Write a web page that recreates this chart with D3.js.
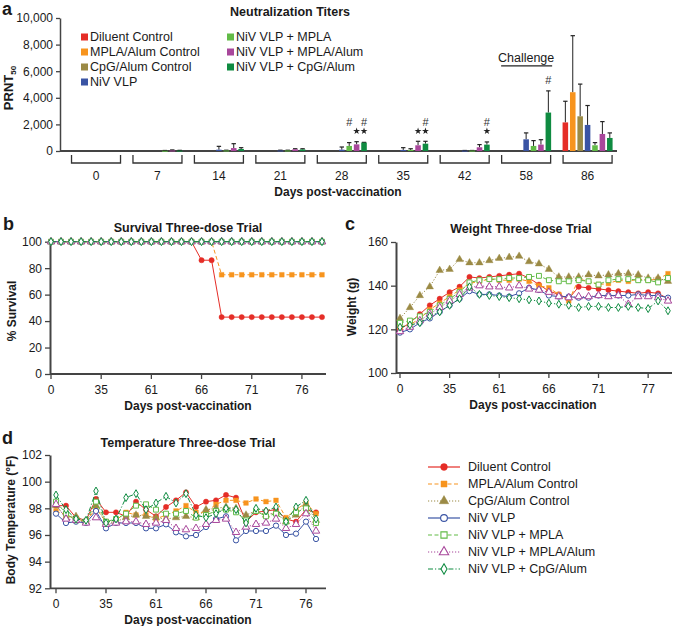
<!DOCTYPE html>
<html><head><meta charset="utf-8">
<script src="https://cdn.jsdelivr.net/npm/d3@7"></script>
<style>
body{margin:0;background:#fff;}
svg{font-family:"Liberation Sans",Arial,Helvetica,sans-serif;}
</style></head><body>
<svg id="chart" width="675" height="626"></svg>
<script>
// ---------------- DATA ----------------
const seriesNames = ["Diluent Control","MPLA/Alum Control","CpG/Alum Control","NiV VLP","NiV VLP + MPLA","NiV VLP + MPLA/Alum","NiV VLP + CpG/Alum"];
const seriesColors = ["#e52d27","#f7941e","#9b8a45","#3a54a4","#62bb47","#a8479b","#0f8b41"];

// Panel a: neutralization titers
const titerDays = ["0","7","14","21","28","35","42","58","86"];
const titerTicks = [0,2000,4000,6000,8000,10000];
const titerMeans = [
  [0,0,0,0,0,0,0,0,2150],
  [0,0,0,0,0,0,0,0,4420],
  [0,0,0,0,0,0,0,0,2610],
  [0,0,100,40,100,80,30,880,1960],
  [0,20,40,40,380,80,30,380,430],
  [0,40,220,130,500,430,280,480,1280],
  [0,30,150,120,630,550,480,2890,980]
];
const titerUpper = [
  [0,0,0,0,0,0,0,0,3740],
  [0,0,0,0,0,0,0,0,8670],
  [0,0,0,0,0,0,0,0,5030],
  [0,0,350,60,300,250,40,1360,3420],
  [0,40,60,60,630,170,40,780,630],
  [0,80,550,170,700,730,480,850,2210],
  [0,50,250,170,650,730,680,4520,1360]
];
const hashMarks = [["28",4,2180],["28",6,2180],["35",6,2180],["42",6,2180],["58",6,5340]];
const starMarks = [["28",5,1500],["28",6,1500],["35",5,1500],["35",6,1500],["42",6,1500]];
const challengeGroup = "58";
const challengeLevel = [6400, 7000];

// Panel b: survival
const survivalTickLabels = ["0","35","61","66","71","76"];
const survival = [
  [100,100,100,100,100,100,100,100,100,100,100,100,100,100,100,86,86,43,43,43,43,43,43,43,43,43,43,43],
  [100,100,100,100,100,100,100,100,100,100,100,100,100,100,100,100,100,75,75,75,75,75,75,75,75,75,75,75],
  [100,100,100,100,100,100,100,100,100,100,100,100,100,100,100,100,100,100,100,100,100,100,100,100,100,100,100,100],
  [100,100,100,100,100,100,100,100,100,100,100,100,100,100,100,100,100,100,100,100,100,100,100,100,100,100,100,100],
  [100,100,100,100,100,100,100,100,100,100,100,100,100,100,100,100,100,100,100,100,100,100,100,100,100,100,100,100],
  [100,100,100,100,100,100,100,100,100,100,100,100,100,100,100,100,100,100,100,100,100,100,100,100,100,100,100,100],
  [100,100,100,100,100,100,100,100,100,100,100,100,100,100,100,100,100,100,100,100,100,100,100,100,100,100,100,100]
];

// Panel c: weight
const weightTickLabels = ["0","35","61","66","71","77"];
const weightTicks = [100,120,140,160];
const weight = [
  [120,123,127,131,134,137,139.5,144,143.5,144,144.5,145,145.5,143.5,140.5,137.5,136,134,139.5,139,138.5,138,137.5,137,136.5,137,136.5,134],
  [121,122,125,129,132,135,138,141,142,143,142.5,142.5,143,142,140,139,136,133,143,142,140.5,141,142.5,142,143,142.5,143,145.5],
  [125,130,135.5,139.5,147,147.5,152,150.5,150.5,151.5,152.5,153,153.5,151,150,147.5,144,144,144,145,144.5,145,145.5,145.5,145,143.5,143.5,142],
  [118.5,120,123,125,128,131,134,137.5,136,136,135.5,135,136.5,139,138,135.5,135,135,134.5,134.5,135.5,135.5,135.5,135.5,136,135.5,135.5,134.5],
  [123,124,126,128,131,134,137,141.5,142.5,143,143,143.5,143.5,144,144.5,142.5,142,142,142.5,142,140.5,142.5,143,143,142.5,142.5,141.5,143.5],
  [119,121,124,127,130,133,136,139,140,139.5,139.5,139,140,138.5,138,137,135,134.5,135,135,135.5,135,135.5,131.5,135,135,134.5,133],
  [121,122,123,126,128,131,134,139.5,136,135.5,135,134.5,134,133.5,133,132,131.5,131,130,130.5,130.5,130,130,130.5,130,129.5,133,128.5]
];

// Panel d: temperature
const tempTickLabels = ["0","35","61","66","71","76"];
const tempTicks = [92,94,96,98,100,102];
const temperature = [
  [98.2,98.2,97.3,97.1,98.7,97.7,97.7,97.4,98.5,97.9,97.4,98.1,98.6,99.2,98.1,98.5,98.6,99.0,98.8,97.0,97.7,97.8,97.9,97.2,97.0,97.9,97.7],
  [97.8,97.5,97.2,97.0,98.0,97.0,97.1,97.7,97.5,97.5,97.2,97.5,97.8,98.2,97.7,97.7,98.3,98.6,98.6,98.4,98.7,98.5,98.6,97.3,97.9,98.4,97.6],
  [98.2,97.3,97.4,97.0,98.2,96.9,97.0,97.3,97.5,97.4,97.3,97.2,97.3,97.4,97.3,97.9,98.0,98.1,98.0,97.5,97.8,97.5,97.7,97.0,97.5,98.3,97.1],
  [97.6,96.9,97.0,96.9,97.8,96.5,96.9,96.9,96.9,96.5,96.5,96.8,96.2,95.9,96.0,96.6,97.2,97.4,95.6,96.3,96.3,96.3,96.7,96.0,96.1,97.0,95.7],
  [98.5,97.6,97.1,97.0,98.5,97.0,97.2,97.6,98.2,98.3,97.9,97.6,97.6,97.8,97.3,97.5,97.8,97.9,97.7,97.1,97.8,97.4,97.6,97.0,97.7,98.0,96.9],
  [98.3,97.2,97.1,96.9,97.3,96.8,96.9,97.0,97.0,96.8,96.9,97.1,96.5,96.4,96.5,96.8,97.1,97.2,96.2,96.6,96.8,96.9,97.2,96.5,96.8,97.6,96.3],
  [99.0,97.9,97.2,97.1,99.3,96.9,97.2,98.8,99.1,97.9,98.4,98.9,98.4,99.1,97.5,97.3,97.6,98.0,97.9,96.9,98.0,97.8,98.1,97.0,98.1,98.6,97.2]
];

// ---------------- STYLES ----------------
const dashes = [null,"4,2.5","1.2,1.8",null,"4,2.5","1.2,1.8","5,2,1.2,2"];
const symbols = [d3.symbolCircle,d3.symbolSquare,d3.symbolTriangle,d3.symbolCircle,d3.symbolSquare,d3.symbolTriangle,d3.symbolDiamond];
const symbolSizes = [22,22,24,22,24,24,18];
const filled = [true,true,true,false,false,false,false];
const axisColor = "#444";
const textColor = "#1a1a1a";

const svg = d3.select("#chart");

function label(g, x, y, s, size, weight, anchor) {
  return g.append("text").attr("x", x).attr("y", y).text(s)
    .attr("font-size", size).attr("font-weight", weight || "normal")
    .attr("text-anchor", anchor || "start").attr("fill", textColor);
}
function styleAxis(sel, width) {
  sel.select(".domain").attr("stroke", axisColor).attr("stroke-width", width || 1.8);
  sel.selectAll(".tick line").attr("stroke", axisColor).attr("stroke-width", 1.3);
  sel.selectAll(".tick text").attr("font-size", 12).attr("fill", textColor)
    .attr("font-family", '"Liberation Sans", Arial, sans-serif');
}

// ---------------- PANEL A ----------------
const gA = svg.append("g");
label(gA, 2, 15, "a", 18, "bold");
label(gA, 290, 16, "Neutralization Titers", 12.5, "bold", "middle");
const yA = d3.scaleLinear().domain([0,10000]).range([151,18]);
const xA = d3.scaleBand().domain(titerDays).range([65.3,618.3]);
const half = xA.bandwidth()/2;
const inner = d3.scaleBand().domain(d3.range(7)).range([half-25, half+25]).paddingInner(0.25);

const axA = gA.append("g").attr("transform","translate(60,0)")
  .call(d3.axisLeft(yA).tickValues(titerTicks).tickFormat(d3.format(",")).tickSize(4).tickSizeOuter(0).tickPadding(3));
styleAxis(axA, 1.5);
gA.append("line").attr("x1",60).attr("x2",617).attr("y1",yA(0)).attr("y2",yA(0))
  .attr("stroke",axisColor).attr("stroke-width",1.8);

const ylab = gA.append("text").attr("transform","translate(13,88) rotate(-90)")
  .attr("text-anchor","middle").attr("font-size",13).attr("font-weight","bold").attr("fill",textColor);
ylab.append("tspan").text("PRNT");
ylab.append("tspan").text("50").attr("font-size",8).attr("dy",3);

// bars
seriesNames.forEach((name, s) => {
  titerDays.forEach((d, k) => {
    const m = titerMeans[s][k], u = titerUpper[s][k];
    if (m <= 0) return;
    const x = xA(d) + inner(s), w = inner.bandwidth(), cx = x + w/2;
    if (u > m) {
      gA.append("line").attr("x1",cx).attr("x2",cx).attr("y1",yA(m)).attr("y2",yA(u)).attr("stroke","#222").attr("stroke-width",1);
      gA.append("line").attr("x1",cx-2.2).attr("x2",cx+2.2).attr("y1",yA(u)).attr("y2",yA(u)).attr("stroke","#222").attr("stroke-width",1.2);
    }
    gA.append("rect").attr("x",x).attr("y",yA(m)).attr("width",w).attr("height",Math.max(1,yA(0)-yA(m)))
      .attr("fill",seriesColors[s]);
  });
});
// significance marks
hashMarks.forEach(([d,s,v]) => {
  const cx = xA(d) + inner(s) + inner.bandwidth()/2;
  gA.append("text").attr("x",cx).attr("y",yA(v)).attr("dy","0.35em").attr("text-anchor","middle")
    .attr("font-size",11).attr("fill","#333").text("#");
});
starMarks.forEach(([d,s,v]) => {
  const cx = xA(d) + inner(s) + inner.bandwidth()/2;
  gA.append("path").attr("d", d3.symbol().type(d3.symbolStar).size(15)())
    .attr("transform",`translate(${cx},${yA(v)})`).attr("fill","#222");
});
// challenge
{
  const c = xA(challengeGroup) + half;
  gA.append("line").attr("x1",c-25).attr("x2",c+26).attr("y1",yA(challengeLevel[0])).attr("y2",yA(challengeLevel[0]))
    .attr("stroke","#222").attr("stroke-width",1.3);
  gA.append("text").attr("x",c).attr("y",yA(challengeLevel[1])).attr("dy","0.35em").attr("text-anchor","middle")
    .attr("font-size",12.5).attr("fill",textColor).text("Challenge");
}
// brackets + labels
titerDays.forEach(d => {
  const c = xA(d) + half;
  gA.append("path").attr("d",`M${c-24.5},155V163H${c+24.5}V155`).attr("fill","none")
    .attr("stroke","#333").attr("stroke-width",1.3);
  label(gA, c, 180, d, 12, "normal", "middle");
});
label(gA, 338, 196, "Days post-vaccination", 12, "bold", "middle");
// legend a
seriesNames.forEach((n, s) => {
  const col = s < 4 ? 0 : 1, row = s < 4 ? s : s - 4;
  const x = col === 0 ? 81 : 227, y = 37 + row * 15;
  gA.append("rect").attr("x",x).attr("y",y-3.5).attr("width",7).attr("height",7).attr("fill",seriesColors[s]);
  gA.append("text").attr("x",x+9).attr("y",y).attr("dy","0.35em").attr("font-size",12.5).attr("fill",textColor).text(n);
});

// ---------------- LINE PANELS ----------------
function linePanel(cfg) {
  const g = svg.append("g");
  label(g, cfg.letterX, cfg.letterY, cfg.letter, 18, "bold");
  label(g, cfg.titleX, cfg.titleY, cfg.title, 12.5, "bold", "middle");
  const ax = g.append("g").attr("transform",`translate(${cfg.axisX},0)`)
    .call(d3.axisLeft(cfg.y).tickValues(cfg.yTicks).tickSize(5).tickSizeOuter(0).tickPadding(3));
  styleAxis(ax, 2);
  g.append("line").attr("x1",cfg.axisX).attr("x2",cfg.axisEnd).attr("y1",cfg.y.range()[0]).attr("y2",cfg.y.range()[0])
    .attr("stroke",axisColor).attr("stroke-width",1.8);
  cfg.xTickLabels.forEach((t, j) => {
    const xx = cfg.x(j * 5);
    g.append("line").attr("x1",xx).attr("x2",xx).attr("y1",cfg.y.range()[0]).attr("y2",cfg.y.range()[0]+5)
      .attr("stroke",axisColor).attr("stroke-width",1.3);
    label(g, xx, cfg.y.range()[0] + 20, t, 12, "normal", "middle");
  });
  label(g, cfg.xTitleX, cfg.y.range()[0] + 36, "Days post-vaccination", 12, "bold", "middle");
  g.append("text").attr("transform",`translate(${cfg.ylabX},${cfg.ylabY}) rotate(-90)`)
    .attr("text-anchor","middle").attr("font-size",12).attr("font-weight","bold").attr("fill",textColor).text(cfg.ylab);
  const line = d3.line().x((d,i) => cfg.x(i)).y(d => cfg.y(d));
  cfg.data.forEach((arr, s) => {
    g.append("path").attr("d", line(arr)).attr("fill","none").attr("stroke",seriesColors[s])
      .attr("stroke-width",1).attr("stroke-dasharray",dashes[s]);
    arr.forEach((v, i) => {
      g.append("path").attr("d", d3.symbol().type(symbols[s]).size(symbolSizes[s])())
        .attr("transform",`translate(${cfg.x(i)},${cfg.y(v)})`)
        .attr("fill", filled[s] ? seriesColors[s] : "#fff")
        .attr("stroke", seriesColors[s]).attr("stroke-width", filled[s] ? 0.4 : 1);
    });
  });
  return g;
}

linePanel({
  letter:"b", letterX:3, letterY:230, title:"Survival Three-dose Trial", titleX:188, titleY:232, xTitleX:188,
  x: d3.scaleLinear().domain([0,27]).range([51,322]),
  y: d3.scaleLinear().domain([0,100]).range([374,241.7]),
  yTicks:[0,20,40,60,80,100], axisX:50, axisEnd:326, xTickLabels:survivalTickLabels,
  ylab:"% Survival", ylabX:16, ylabY:311, data:survival
});
linePanel({
  letter:"c", letterX:345, letterY:230, title:"Weight Three-dose Trial", titleX:521, titleY:233, xTitleX:533,
  x: d3.scaleLinear().domain([0,27]).range([400,668]),
  y: d3.scaleLinear().domain([100,160]).range([373,242]),
  yTicks:weightTicks, axisX:396, axisEnd:672, xTickLabels:weightTickLabels,
  ylab:"Weight (g)", ylabX:356, ylabY:307, data:weight
});
linePanel({
  letter:"d", letterX:2, letterY:444, title:"Temperature Three-dose Trial", titleX:188, titleY:447, xTitleX:188,
  x: d3.scaleLinear().domain([0,26]).range([56,316]),
  y: d3.scaleLinear().domain([92,102]).range([588.3,455]),
  yTicks:tempTicks, axisX:50, axisEnd:326, xTickLabels:tempTickLabels,
  ylab:"Body Temperature (°F)", ylabX:15, ylabY:520, data:temperature
});

// legend d
const gL = svg.append("g");
seriesNames.forEach((n, s) => {
  const y = 467 + s * 17;
  gL.append("line").attr("x1",428).attr("x2",460).attr("y1",y).attr("y2",y)
    .attr("stroke",seriesColors[s]).attr("stroke-width",1.2).attr("stroke-dasharray",dashes[s]);
  gL.append("path").attr("d", d3.symbol().type(symbols[s]).size(symbolSizes[s]+14)())
    .attr("transform",`translate(444,${y})`)
    .attr("fill", filled[s] ? seriesColors[s] : "#fff").attr("stroke",seriesColors[s]).attr("stroke-width", filled[s]?0.5:1.1);
  gL.append("text").attr("x",468).attr("y",y).attr("dy","0.35em").attr("font-size",12.5).attr("fill",textColor).text(n);
});
</script>
</body></html>
